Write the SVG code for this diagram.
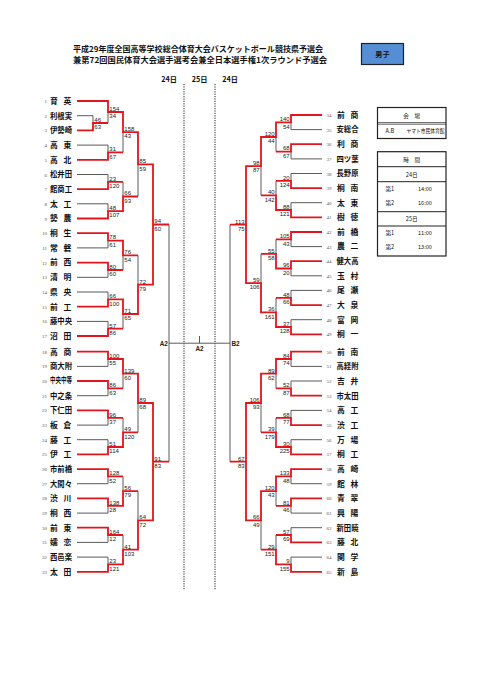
<svg xmlns="http://www.w3.org/2000/svg" width="481" height="680" viewBox="0 0 481 680">
<style>
.g{fill:none;stroke:#5a5a5a;stroke-width:1}
.r{fill:none;stroke:#e3141c;stroke-width:1.8;stroke-linejoin:miter}
.dot{fill:none;stroke:#222;stroke-width:1;stroke-dasharray:1.2 1.2}
.nm{font-family:"Noto Sans CJK JP","Liberation Serif",sans-serif;font-weight:bold;font-size:7.8px;fill:#111}
.no{font-family:"Liberation Serif",serif;font-size:5px;fill:#555}
.s{font-family:"Liberation Sans",Arial,sans-serif;font-size:6px;fill:#222}
.e{text-anchor:end}
.c{text-anchor:middle}
.ti{font-family:"Noto Sans CJK JP",sans-serif;font-weight:bold;font-size:8px;fill:#111}
.hd{font-family:"Noto Sans CJK JP",sans-serif;font-weight:bold;font-size:7.2px;fill:#111}
.tb{font-family:"Noto Sans CJK JP","Liberation Serif",sans-serif;font-size:5.6px;fill:#111}
.lb{font-family:"Liberation Sans",Arial,sans-serif;font-weight:bold;font-size:6.4px;fill:#222}
</style>
<rect width="481" height="680" fill="#fff"/>
<g id="title">
<text class="ti" x="73" y="52" textLength="250" lengthAdjust="spacingAndGlyphs">平成29年度全国高等学校総合体育大会バスケットボール競技県予選会</text>
<text class="ti" x="73" y="62.5" textLength="254" lengthAdjust="spacingAndGlyphs">兼第72回国民体育大会選手選考会兼全日本選手権1次ラウンド予選会</text>
</g>
<g id="badge">
<rect x="361.5" y="43.5" width="42" height="21" fill="#558ed5" stroke="#222" stroke-width="1.2"/>
<text class="hd c" x="382.5" y="57.2" font-size="8.5">男子</text>
</g>
<g id="days">
<text class="hd c" x="169" y="82">24日</text>
<text class="hd c" x="199.5" y="82">25日</text>
<text class="hd c" x="230" y="82">24日</text>
<path class="dot" d="M184 84V590M215 84V590"/>
</g>
<g id="venue">
<rect x="377.5" y="107.5" width="68.5" height="31" fill="none" stroke="#222" stroke-width="1.2"/>
<path d="M377.5 122.6H446M377.5 124.2H446" stroke="#222" stroke-width="0.7"/>
<text class="tb c" x="411.7" y="118">会　場</text>
<text class="tb" x="385.5" y="132.8">A.B</text>
<text class="tb" x="406.5" y="132.6" font-size="4.4" textLength="38" lengthAdjust="spacingAndGlyphs">ヤマト市民体育館</text>
</g>
<g id="times">
<rect x="377.5" y="151.7" width="68.5" height="104.3" fill="none" stroke="#222" stroke-width="1.2"/>
<path d="M377.5 166.7H446M377.5 181.7H446M377.5 211.7H446M377.5 226H446" stroke="#222" stroke-width="1"/>
<text class="tb c" x="411.7" y="162">時　間</text>
<text class="tb c" x="411.7" y="177">24日</text>
<text class="tb" x="385.5" y="191.3">第1</text><text class="tb" x="418" y="191.3">14:00</text>
<text class="tb" x="385.5" y="205.3">第2</text><text class="tb" x="418" y="205.3">16:00</text>
<text class="tb c" x="411.7" y="221">25日</text>
<text class="tb" x="385.5" y="235.3">第1</text><text class="tb" x="418" y="235.3">11:00</text>
<text class="tb" x="385.5" y="249.3">第2</text><text class="tb" x="418" y="249.3">13:00</text>
</g>
<g id="connectors">
<path class="g" d="M77 115.7H93M77 145.1H108M77 174.5H108M77 203.8H108M77 247.9H108M77 277.3H108M77 292H108M77 321.4H108M77 366.4H108M77 395.7H108M77 425.1H108M77 439.7H108M77 483.7H108M77 513.1H108M77 542.4H108M77 557.1H108
M93 115.7V123M108 112V123M108 145.1V152.4M123 132.2V152.4M108 174.5V181.8M108 203.8V211.2M123 181.8V196.5M138 164.4V196.5M108 240.6V247.9M108 270V277.3M123 255.3V270M108 292V299.4M108 321.4V328.7M123 314V328.7M138 255.3V284.7
M108 359V366.4M108 388.4V395.7M123 373.7V388.4M108 417.8V425.1M108 439.7V447M123 417.8V432.4M138 403V432.4M108 476.4V483.7M108 505.8V513.1M123 476.4V491.1M108 535V542.4M108 557.1V564.4M123 535V549.7M138 491.1V520.4
M169 224.5V461.7M169 343.2H230M230 224.7V461.7M199.5 336V343.2
M322 129.6H291M322 158.9H291M322 173.5H291M322 202.7H291M322 246.6H291M322 275.8H291M322 290.4H291M322 319.7H291M322 366.4H291M322 381H291M322 410.4H291M322 439.7H291M322 483.7H291M322 513.1H291M322 527.7H291M322 557.1H291
M291 122.3V129.6M291 151.6V158.9M276 137V151.6M291 173.5V180.8M291 202.7V210M276 180.8V195.4M261 166.2V195.4M291 239.3V246.6M291 268.5V275.8M276 239.3V253.9M291 290.4V297.8M291 319.7V327M276 297.8V312.4M261 253.9V283.2
M291 359V366.4M291 381V388.4M276 373.7V388.4M291 410.4V417.8M291 439.7V447M276 417.8V432.4M261 403V432.4M291 476.4V483.7M291 505.8V513.1M276 491.1V505.8M291 527.7V535M291 557.1V564.4M276 535V549.7M261 520.4V549.7"/>
<path class="r" d="M77 101H108V112H123V132.2H138V164.4H153V224.5H169M77 130.4H93V123H108M77 159.8H108V152.4H123M77 189.1H108V181.8H123M77 218.5H108V211.2H123V196.5H138M77 233.2H108V240.6H123V255.3H138M77 262.6H108V270H123M77 306.7H108V299.4H123V314H138V284.7H153V224.5M77 336H108V328.7H123
M77 351.7H108V359H123V373.7H138V403H153V461.7H169M77 381H108V388.4H123M77 410.4H108V417.8H123M77 454.4H108V447H123V432.4H138M77 469.1H108V476.4H123M77 498.4H108V505.8H123V491.1H138M77 527.7H108V535H123M77 571.8H108V564.4H123V549.7H138V520.4H153V461.7
M322 115H291V122.3H276V137H261V166.2H246V224.7H230M322 144.2H291V151.6H276M322 188.1H291V180.8H276M322 217.3H291V210H276V195.4H261M322 232H291V239.3H276M322 261.2H291V268.5H276V253.9H261M322 305.1H291V297.8H276M322 334.3H291V327H276V312.4H261V283.2H246V224.7
M322 351.7H291V359H276V373.7H261V403H246V461.7M322 395.7H291V388.4H276M322 425.1H291V417.8H276M322 454.4H291V447H276V432.4H261M322 469.1H291V476.4H276V491.1H261V520.4H246V461.7H230M322 498.4H291V505.8H276M322 542.4H291V535H276M322 571.8H291V564.4H276V549.7H261"/>
<text class="lb e" x="167.8" y="345.5">A2</text>
<text class="lb c" x="199.5" y="351">A2</text>
<text class="lb" x="231.5" y="345.5">B2</text>
</g>
<g id="scores">
<text class="s" x="94.3" y="121.8">46</text><text class="s" x="94.3" y="129.2">63</text>
<text class="s" x="109.3" y="110.8">154</text><text class="s" x="109.3" y="118.2">34</text>
<text class="s" x="109.3" y="151.2">31</text><text class="s" x="109.3" y="158.6">67</text>
<text class="s" x="124.3" y="131">158</text><text class="s" x="124.3" y="138.4">43</text>
<text class="s" x="109.3" y="180.6">23</text><text class="s" x="109.3" y="188">120</text>
<text class="s" x="109.3" y="210">48</text><text class="s" x="109.3" y="217.4">107</text>
<text class="s" x="124.3" y="195.3">66</text><text class="s" x="124.3" y="202.7">93</text>
<text class="s" x="139.3" y="163.2">85</text><text class="s" x="139.3" y="170.6">59</text>
<text class="s" x="109.3" y="239.4">78</text><text class="s" x="109.3" y="246.8">61</text>
<text class="s" x="109.3" y="268.8">80</text><text class="s" x="109.3" y="276.2">60</text>
<text class="s" x="124.3" y="254.1">76</text><text class="s" x="124.3" y="261.5">54</text>
<text class="s" x="109.3" y="298.2">66</text><text class="s" x="109.3" y="305.6">100</text>
<text class="s" x="109.3" y="327.5">57</text><text class="s" x="109.3" y="334.9">86</text>
<text class="s" x="124.3" y="312.8">71</text><text class="s" x="124.3" y="320.2">65</text>
<text class="s" x="139.3" y="283.5">72</text><text class="s" x="139.3" y="290.9">79</text>
<text class="s" x="154.3" y="223.3">94</text><text class="s" x="154.3" y="230.7">60</text>
<text class="s" x="109.3" y="357.8">100</text><text class="s" x="109.3" y="365.2">55</text>
<text class="s" x="109.3" y="387.2">86</text><text class="s" x="109.3" y="394.6">63</text>
<text class="s" x="124.3" y="372.5">139</text><text class="s" x="124.3" y="379.9">60</text>
<text class="s" x="109.3" y="416.6">96</text><text class="s" x="109.3" y="424">37</text>
<text class="s" x="109.3" y="445.8">51</text><text class="s" x="109.3" y="453.2">114</text>
<text class="s" x="124.3" y="431.2">49</text><text class="s" x="124.3" y="438.6">120</text>
<text class="s" x="139.3" y="401.8">89</text><text class="s" x="139.3" y="409.2">68</text>
<text class="s" x="109.3" y="475.2">128</text><text class="s" x="109.3" y="482.6">52</text>
<text class="s" x="109.3" y="504.6">138</text><text class="s" x="109.3" y="512">28</text>
<text class="s" x="124.3" y="489.9">56</text><text class="s" x="124.3" y="497.3">79</text>
<text class="s" x="109.3" y="533.8">164</text><text class="s" x="109.3" y="541.2">12</text>
<text class="s" x="109.3" y="563.2">23</text><text class="s" x="109.3" y="570.6">121</text>
<text class="s" x="124.3" y="548.5">41</text><text class="s" x="124.3" y="555.9">103</text>
<text class="s" x="139.3" y="519.2">64</text><text class="s" x="139.3" y="526.6">72</text>
<text class="s" x="154.3" y="460.5">91</text><text class="s" x="154.3" y="467.9">83</text>
<text class="s e" x="289.7" y="121.1">140</text><text class="s e" x="289.7" y="128.5">54</text>
<text class="s e" x="289.7" y="150.4">68</text><text class="s e" x="289.7" y="157.8">67</text>
<text class="s e" x="274.7" y="135.8">120</text><text class="s e" x="274.7" y="143.2">44</text>
<text class="s e" x="289.7" y="179.6">20</text><text class="s e" x="289.7" y="187">124</text>
<text class="s e" x="289.7" y="208.8">88</text><text class="s e" x="289.7" y="216.2">121</text>
<text class="s e" x="274.7" y="194.2">40</text><text class="s e" x="274.7" y="201.6">142</text>
<text class="s e" x="259.7" y="165">98</text><text class="s e" x="259.7" y="172.4">87</text>
<text class="s e" x="289.7" y="238.1">105</text><text class="s e" x="289.7" y="245.5">43</text>
<text class="s e" x="289.7" y="267.3">96</text><text class="s e" x="289.7" y="274.7">20</text>
<text class="s e" x="274.7" y="252.7">55</text><text class="s e" x="274.7" y="260.1">58</text>
<text class="s e" x="289.7" y="296.6">48</text><text class="s e" x="289.7" y="304">66</text>
<text class="s e" x="289.7" y="325.8">37</text><text class="s e" x="289.7" y="333.2">128</text>
<text class="s e" x="274.7" y="311.2">36</text><text class="s e" x="274.7" y="318.6">161</text>
<text class="s e" x="259.7" y="282">59</text><text class="s e" x="259.7" y="289.4">106</text>
<text class="s e" x="244.7" y="223.5">113</text><text class="s e" x="244.7" y="230.9">75</text>
<text class="s e" x="289.7" y="357.8">84</text><text class="s e" x="289.7" y="365.2">74</text>
<text class="s e" x="289.7" y="387.2">52</text><text class="s e" x="289.7" y="394.6">87</text>
<text class="s e" x="274.7" y="372.5">89</text><text class="s e" x="274.7" y="379.9">62</text>
<text class="s e" x="289.7" y="416.6">68</text><text class="s e" x="289.7" y="424">77</text>
<text class="s e" x="289.7" y="445.8">30</text><text class="s e" x="289.7" y="453.2">225</text>
<text class="s e" x="274.7" y="431.2">39</text><text class="s e" x="274.7" y="438.6">179</text>
<text class="s e" x="259.7" y="401.8">106</text><text class="s e" x="259.7" y="409.2">93</text>
<text class="s e" x="289.7" y="475.2">133</text><text class="s e" x="289.7" y="482.6">48</text>
<text class="s e" x="289.7" y="504.6">81</text><text class="s e" x="289.7" y="512">46</text>
<text class="s e" x="274.7" y="489.9">120</text><text class="s e" x="274.7" y="497.3">43</text>
<text class="s e" x="289.7" y="533.8">57</text><text class="s e" x="289.7" y="541.2">69</text>
<text class="s e" x="289.7" y="563.2">9</text><text class="s e" x="289.7" y="570.6">155</text>
<text class="s e" x="274.7" y="548.5">29</text><text class="s e" x="274.7" y="555.9">151</text>
<text class="s e" x="259.7" y="519.2">66</text><text class="s e" x="259.7" y="526.6">49</text>
<text class="s e" x="244.7" y="460.5">67</text><text class="s e" x="244.7" y="467.9">83</text>
</g>
<g id="t1"><text class="no e" x="47" y="103">1</text><text class="nm" x="50" y="103.8">育<tspan x="63.5">英</tspan></text></g>
<g id="t2"><text class="no e" x="47" y="117.7">2</text><text class="nm" x="50" y="118.5" textLength="22" lengthAdjust="spacingAndGlyphs">利根実</text></g>
<g id="t3"><text class="no e" x="47" y="132.4">3</text><text class="nm" x="50" y="133.2" textLength="22" lengthAdjust="spacingAndGlyphs">伊勢崎</text></g>
<g id="t4"><text class="no e" x="47" y="147.1">4</text><text class="nm" x="50" y="147.9">高<tspan x="63.5">東</tspan></text></g>
<g id="t5"><text class="no e" x="47" y="161.8">5</text><text class="nm" x="50" y="162.6">高<tspan x="63.5">北</tspan></text></g>
<g id="t6"><text class="no e" x="47" y="176.5">6</text><text class="nm" x="50" y="177.3" textLength="22" lengthAdjust="spacingAndGlyphs">松井田</text></g>
<g id="t7"><text class="no e" x="47" y="191.1">7</text><text class="nm" x="50" y="191.9" textLength="22" lengthAdjust="spacingAndGlyphs">館商工</text></g>
<g id="t8"><text class="no e" x="47" y="205.8">8</text><text class="nm" x="50" y="206.6">太<tspan x="63.5">工</tspan></text></g>
<g id="t9"><text class="no e" x="47" y="220.5">9</text><text class="nm" x="50" y="221.3">勢<tspan x="63.5">農</tspan></text></g>
<g id="t10"><text class="no e" x="47" y="235.2">10</text><text class="nm" x="50" y="236">桐<tspan x="63.5">生</tspan></text></g>
<g id="t11"><text class="no e" x="47" y="249.9">11</text><text class="nm" x="50" y="250.7">常<tspan x="63.5">磐</tspan></text></g>
<g id="t12"><text class="no e" x="47" y="264.6">12</text><text class="nm" x="50" y="265.4">前<tspan x="63.5">西</tspan></text></g>
<g id="t13"><text class="no e" x="47" y="279.3">13</text><text class="nm" x="50" y="280.1">清<tspan x="63.5">明</tspan></text></g>
<g id="t14"><text class="no e" x="47" y="294">14</text><text class="nm" x="50" y="294.8">県<tspan x="63.5">央</tspan></text></g>
<g id="t15"><text class="no e" x="47" y="308.7">15</text><text class="nm" x="50" y="309.5">前<tspan x="63.5">工</tspan></text></g>
<g id="t16"><text class="no e" x="47" y="323.4">16</text><text class="nm" x="50" y="324.2" textLength="22" lengthAdjust="spacingAndGlyphs">藤中央</text></g>
<g id="t17"><text class="no e" x="47" y="338">17</text><text class="nm" x="50" y="338.8">沼<tspan x="63.5">田</tspan></text></g>
<g id="t18"><text class="no e" x="47" y="353.7">18</text><text class="nm" x="50" y="354.5">高<tspan x="63.5">商</tspan></text></g>
<g id="t19"><text class="no e" x="47" y="368.4">19</text><text class="nm" x="50" y="369.2" textLength="22" lengthAdjust="spacingAndGlyphs">商大附</text></g>
<g id="t20"><text class="no e" x="47" y="383">20</text><text class="nm" x="50" y="383.1" font-size="5.8" textLength="22" lengthAdjust="spacingAndGlyphs">中央中等</text></g>
<g id="t21"><text class="no e" x="47" y="397.7">21</text><text class="nm" x="50" y="398.5" textLength="22" lengthAdjust="spacingAndGlyphs">中之条</text></g>
<g id="t22"><text class="no e" x="47" y="412.4">22</text><text class="nm" x="50" y="413.2" textLength="22" lengthAdjust="spacingAndGlyphs">下仁田</text></g>
<g id="t23"><text class="no e" x="47" y="427.1">23</text><text class="nm" x="50" y="427.9">板<tspan x="63.5">倉</tspan></text></g>
<g id="t24"><text class="no e" x="47" y="441.7">24</text><text class="nm" x="50" y="442.5">藤<tspan x="63.5">工</tspan></text></g>
<g id="t25"><text class="no e" x="47" y="456.4">25</text><text class="nm" x="50" y="457.2">伊<tspan x="63.5">工</tspan></text></g>
<g id="t26"><text class="no e" x="47" y="471.1">26</text><text class="nm" x="50" y="471.9" textLength="22" lengthAdjust="spacingAndGlyphs">市前橋</text></g>
<g id="t27"><text class="no e" x="47" y="485.7">27</text><text class="nm" x="50" y="486.5" textLength="22" lengthAdjust="spacingAndGlyphs">大間々</text></g>
<g id="t28"><text class="no e" x="47" y="500.4">28</text><text class="nm" x="50" y="501.2">渋<tspan x="63.5">川</tspan></text></g>
<g id="t29"><text class="no e" x="47" y="515.1">29</text><text class="nm" x="50" y="515.9">桐<tspan x="63.5">西</tspan></text></g>
<g id="t30"><text class="no e" x="47" y="529.7">30</text><text class="nm" x="50" y="530.5">前<tspan x="63.5">東</tspan></text></g>
<g id="t31"><text class="no e" x="47" y="544.4">31</text><text class="nm" x="50" y="545.2">嬬<tspan x="63.5">恋</tspan></text></g>
<g id="t32"><text class="no e" x="47" y="559.1">32</text><text class="nm" x="50" y="559.9" textLength="22" lengthAdjust="spacingAndGlyphs">西邑楽</text></g>
<g id="t33"><text class="no e" x="47" y="573.8">33</text><text class="nm" x="50" y="574.6">太<tspan x="63.5">田</tspan></text></g>
<g id="t34"><text class="no" x="326.5" y="117">34</text><text class="nm" x="337" y="117.8">前<tspan x="350.5">商</tspan></text></g>
<g id="t35"><text class="no" x="326.5" y="131.6">35</text><text class="nm" x="336.5" y="132.4" textLength="22" lengthAdjust="spacingAndGlyphs">安総合</text></g>
<g id="t36"><text class="no" x="326.5" y="146.2">36</text><text class="nm" x="337" y="147">利<tspan x="350.5">商</tspan></text></g>
<g id="t37"><text class="no" x="326.5" y="160.9">37</text><text class="nm" x="336.5" y="161.7" textLength="22" lengthAdjust="spacingAndGlyphs">四ツ葉</text></g>
<g id="t38"><text class="no" x="326.5" y="175.5">38</text><text class="nm" x="336.5" y="176.3" textLength="22" lengthAdjust="spacingAndGlyphs">長野原</text></g>
<g id="t39"><text class="no" x="326.5" y="190.1">39</text><text class="nm" x="337" y="190.9">桐<tspan x="350.5">南</tspan></text></g>
<g id="t40"><text class="no" x="326.5" y="204.7">40</text><text class="nm" x="337" y="205.5">太<tspan x="350.5">東</tspan></text></g>
<g id="t41"><text class="no" x="326.5" y="219.3">41</text><text class="nm" x="337" y="220.1">樹<tspan x="350.5">徳</tspan></text></g>
<g id="t42"><text class="no" x="326.5" y="234">42</text><text class="nm" x="337" y="234.8">前<tspan x="350.5">橋</tspan></text></g>
<g id="t43"><text class="no" x="326.5" y="248.6">43</text><text class="nm" x="337" y="249.4">農<tspan x="350.5">二</tspan></text></g>
<g id="t44"><text class="no" x="326.5" y="263.2">44</text><text class="nm" x="336.5" y="264" textLength="22" lengthAdjust="spacingAndGlyphs">健大高</text></g>
<g id="t45"><text class="no" x="326.5" y="277.8">45</text><text class="nm" x="337" y="278.6">玉<tspan x="350.5">村</tspan></text></g>
<g id="t46"><text class="no" x="326.5" y="292.4">46</text><text class="nm" x="337" y="293.2">尾<tspan x="350.5">瀬</tspan></text></g>
<g id="t47"><text class="no" x="326.5" y="307.1">47</text><text class="nm" x="337" y="307.9">大<tspan x="350.5">泉</tspan></text></g>
<g id="t48"><text class="no" x="326.5" y="321.7">48</text><text class="nm" x="337" y="322.5">富<tspan x="350.5">岡</tspan></text></g>
<g id="t49"><text class="no" x="326.5" y="336.3">49</text><text class="nm" x="337" y="337.1">桐<tspan x="350.5">一</tspan></text></g>
<g id="t50"><text class="no" x="326.5" y="353.7">50</text><text class="nm" x="337" y="354.5">前<tspan x="350.5">南</tspan></text></g>
<g id="t51"><text class="no" x="326.5" y="368.4">51</text><text class="nm" x="336.5" y="369.2" textLength="22" lengthAdjust="spacingAndGlyphs">高経附</text></g>
<g id="t52"><text class="no" x="326.5" y="383">52</text><text class="nm" x="337" y="383.8">吉<tspan x="350.5">井</tspan></text></g>
<g id="t53"><text class="no" x="326.5" y="397.7">53</text><text class="nm" x="336.5" y="398.5" textLength="22" lengthAdjust="spacingAndGlyphs">市太田</text></g>
<g id="t54"><text class="no" x="326.5" y="412.4">54</text><text class="nm" x="337" y="413.2">高<tspan x="350.5">工</tspan></text></g>
<g id="t55"><text class="no" x="326.5" y="427.1">55</text><text class="nm" x="337" y="427.9">渋<tspan x="350.5">工</tspan></text></g>
<g id="t56"><text class="no" x="326.5" y="441.7">56</text><text class="nm" x="337" y="442.5">万<tspan x="350.5">場</tspan></text></g>
<g id="t57"><text class="no" x="326.5" y="456.4">57</text><text class="nm" x="337" y="457.2">桐<tspan x="350.5">工</tspan></text></g>
<g id="t58"><text class="no" x="326.5" y="471.1">58</text><text class="nm" x="337" y="471.9">高<tspan x="350.5">崎</tspan></text></g>
<g id="t59"><text class="no" x="326.5" y="485.7">59</text><text class="nm" x="337" y="486.5">館<tspan x="350.5">林</tspan></text></g>
<g id="t60"><text class="no" x="326.5" y="500.4">60</text><text class="nm" x="337" y="501.2">青<tspan x="350.5">翠</tspan></text></g>
<g id="t61"><text class="no" x="326.5" y="515.1">61</text><text class="nm" x="337" y="515.9">興<tspan x="350.5">陽</tspan></text></g>
<g id="t62"><text class="no" x="326.5" y="529.7">62</text><text class="nm" x="336.5" y="530.5" textLength="22" lengthAdjust="spacingAndGlyphs">新田暁</text></g>
<g id="t63"><text class="no" x="326.5" y="544.4">63</text><text class="nm" x="337" y="545.2">藤<tspan x="350.5">北</tspan></text></g>
<g id="t64"><text class="no" x="326.5" y="559.1">64</text><text class="nm" x="337" y="559.9">関<tspan x="350.5">学</tspan></text></g>
<g id="t65"><text class="no" x="326.5" y="573.8">65</text><text class="nm" x="337" y="574.6">新<tspan x="350.5">島</tspan></text></g>
</svg>
